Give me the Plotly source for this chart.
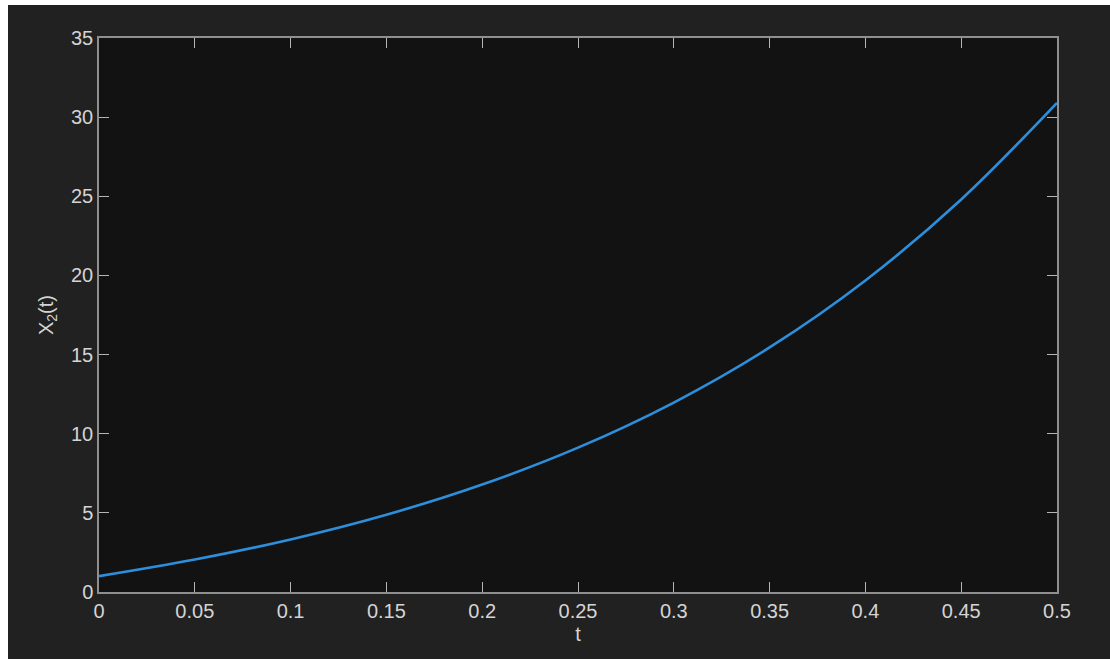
import plotly.graph_objects as go

# Data
t_values = [0.0, 0.05, 0.1, 0.15, 0.2, 0.25, 0.3, 0.35, 0.4, 0.45, 0.5]
x2_values = [1.0, 2.05, 3.32, 4.88, 6.79, 9.12, 11.97, 15.45, 19.68, 24.8, 30.9]
x_ticks = [0, 0.05, 0.1, 0.15, 0.2, 0.25, 0.3, 0.35, 0.4, 0.45, 0.5]
x_tick_labels = ["0", "0.05", "0.1", "0.15", "0.2", "0.25", "0.3", "0.35", "0.4", "0.45", "0.5"]
y_ticks = [0, 5, 10, 15, 20, 25, 30, 35]
y_tick_labels = ["0", "5", "10", "15", "20", "25", "30", "35"]

W, H = 1110, 659
L, R, T, B = 99, 53, 38, 67
pw, ph = W - L - R, H - T - B

font_family = "Liberation Sans, Arial, sans-serif"
txt = "#d4d4d4"
axis_col = "#8f8f8f"

fig = go.Figure()
fig.add_trace(go.Scatter(
    x=t_values, y=x2_values, mode="lines",
    line=dict(color="#2d8fdc", width=2.6, shape="spline", smoothing=1.0),
    showlegend=False, hoverinfo="x+y",
))

# white strips at left and top of the outer panel
fig.add_shape(type="rect", xref="paper", yref="paper", layer="below",
              x0=-(L + 5) / pw, x1=(8 - L) / pw,
              y0=-(B + 10) / ph, y1=1 + (T + 10) / ph,
              fillcolor="#ffffff", line=dict(width=0))
fig.add_shape(type="rect", xref="paper", yref="paper", layer="below",
              x0=-(L + 5) / pw, x1=(W - L + 10) / pw,
              y0=1 + (T - 5) / ph, y1=1 + (T + 10) / ph,
              fillcolor="#ffffff", line=dict(width=0))
# plot area
fig.add_shape(type="rect", xref="paper", yref="paper", layer="below",
              x0=0, x1=1, y0=0, y1=1,
              fillcolor="#121212", line=dict(width=0))

axis_common = dict(
    showline=True, linecolor=axis_col, linewidth=1.5, mirror="ticks",
    ticks="inside", ticklen=10, tickwidth=1, tickcolor="#b5b5b5",
    showgrid=False, zeroline=False,
    tickfont=dict(family=font_family, size=20, color=txt),
)

fig.update_xaxes(range=[0, 0.5], tickvals=x_ticks, ticktext=x_tick_labels,
                 title=dict(text="t", font=dict(family=font_family, size=20, color=txt), standoff=6),
                 **axis_common)
fig.update_yaxes(range=[0, 35], tickvals=y_ticks, ticktext=y_tick_labels,
                 title=dict(text="X<sub>2</sub>(t)", font=dict(family=font_family, size=20, color=txt), standoff=12),
                 **axis_common)

fig.update_layout(
    width=W, height=H,
    margin=dict(l=L, r=R, t=T, b=B),
    paper_bgcolor="#212121",
    plot_bgcolor="rgba(0,0,0,0)",
    font=dict(family=font_family, color=txt),
)

fig.write_html(
    "out.html",
    config={"displayModeBar": False},
    post_script="document.body.style.margin='0';document.body.style.padding='0';"
                "document.body.style.overflow='hidden';"
                "document.body.style.background='#212121';",
)
